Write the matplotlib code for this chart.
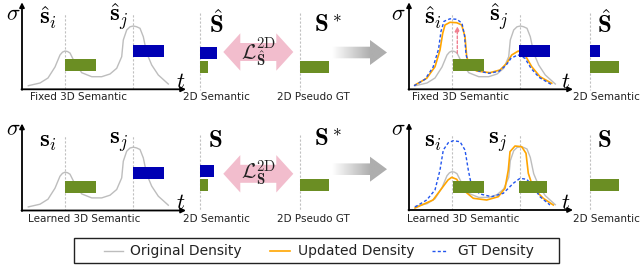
import numpy as np
import matplotlib
matplotlib.use("Agg")
import matplotlib.pyplot as plt
from matplotlib.patches import Polygon, Rectangle, FancyArrow
from matplotlib.lines import Line2D
from matplotlib.colors import LinearSegmentedColormap

plt.rcParams['mathtext.fontset'] = 'cm'
plt.rcParams['font.family'] = ['DejaVu Sans']

# ---------------- data (t along ray, sigma density) ----------------
T_ORIG = [6.3, 18, 26, 33, 38, 40.5, 43, 45.5, 48, 53, 59.7, 69.7, 79.7, 88, 94.7, 99.7,
          101.3, 104.7, 108, 111.3, 114.5, 118, 121.3, 124.7, 129.7, 136.3, 146.3]
SIGMA_ORIG = [3.6, 6.3, 11.3, 22.3, 34.3, 37.2, 38.3, 37.8, 36.3, 26.3, 16.6, 12.6, 12.6, 15.3, 21,
              32.6, 49.3, 59.3, 62.5, 63.3, 62.6, 61, 52.6, 36.3, 24.3, 14.3, 5.3]

T_UPD_FIXED = [6, 17.7, 26, 31, 33.7, 36, 41, 47.7, 52.7, 56, 57.7, 61, 67.7, 81, 91, 97.7,
               102.7, 109.3, 116, 122.7, 131, 142.7]
SIGMA_UPD_FIXED = [4.3, 11, 22.6, 39.3, 56, 64.3, 67, 66.6, 64.3, 52.6, 32.6, 22.6, 18.3, 16.6,
                   19.3, 26, 34.3, 38.3, 34.3, 22.6, 12.6, 6]

T_GT_FIXED = [5, 16, 24, 29.5, 32, 35, 41, 48, 53, 55.5, 57, 60, 66, 80, 90, 97, 102, 109, 116,
              122, 130, 142]
SIGMA_GT_FIXED = [3.5, 10, 22, 40, 58, 68, 70.5, 70, 66, 54, 35, 24, 19, 16, 18, 24, 31, 34.5,
                  31, 21, 12, 5]

T_UPD_LEARNED = [6, 24, 34, 39, 42.7, 47.7, 54.3, 64.3, 77.7, 89.3, 96, 99.3, 101, 106, 112.7,
                 117, 119.3, 124.3, 134.3, 144.3]
SIGMA_UPD_LEARNED = [2, 10, 23.3, 30, 32.7, 30.7, 20, 11.7, 10, 13.3, 21.7, 40, 58.3, 64, 63.3,
                     56.7, 36.7, 21.7, 11.7, 5]

T_GT_LEARNED = [6, 17.7, 26, 31, 34.3, 39.3, 44.3, 51, 56, 59.3, 62.7, 71, 82.7, 94.3, 104.3,
                111, 117.7, 124.3, 131, 141]
SIGMA_GT_LEARNED = [3, 10, 20, 40, 60, 67.3, 69.3, 68.3, 60, 40, 23.3, 16, 13.3, 16.7, 26.7,
                    31.7, 30.7, 23.3, 13.3, 5]

# semantic feature lengths: (green class, blue class)
SEM_FIXED_I = [31, 0]
SEM_FIXED_J = [0, 31]
SEM_LEARNED_I = [31, 0]
SEM_LEARNED_J = [0, 31]
SEM_LEARNED_I_AFTER = [31, 0]
SEM_LEARNED_J_AFTER = [0, 0]
SEM_LEARNED_J_AFTER_GREEN = [28, 0]
RENDER_FIXED = [8.5, 17]
RENDER_LEARNED = [8.5, 14]
PSEUDO_GT = [29, 0]
RENDER_FIXED_AFTER = [29, 10]
RENDER_LEARNED_AFTER = [29, 0]

LEGEND_LABELS = ["Original Density", "Updated Density", "GT Density"]
PANEL_LABELS_TOP = ["Fixed 3D Semantic", "2D Semantic", "2D Pseudo GT"]
PANEL_LABELS_BOT = ["Learned 3D Semantic", "2D Semantic", "2D Pseudo GT"]

# ---------------- style ----------------
GREEN = '#6B8E23'
BLUE = '#0000B4'
GRAY_LINE = '#BDBDBD'
ORANGE = '#FFA500'
GT_BLUE = '#2255EE'
DASH_GRAY = '#C0C0C0'
PINK = '#F2BDCD'

W, H = 641, 266
fig = plt.figure(figsize=(W / 100, H / 100), dpi=100)
ov = fig.add_axes([0, 0, 1, 1])
ov.set_xlim(0, W)
ov.set_ylim(H, 0)
ov.axis('off')

PW, PH = 164, 87
T_I, T_J = 42.5, 110.5


def panel(x0, y0):
    ax = fig.add_axes([x0 / W, (H - y0) / H, PW / W, PH / H])
    ax.set_xlim(0, PW)
    ax.set_ylim(0, PH)
    ax.axis('off')
    for t in (T_I, T_J):
        ax.plot([t, t], [0, 76], color=DASH_GRAY, lw=0.8, dashes=(2, 1.6), zorder=1)
    ax.annotate('', xy=(PW, 0), xytext=(-0.5, 0),
                arrowprops=dict(arrowstyle='-|>', color='black', lw=1.3, mutation_scale=7,
                                shrinkA=0, shrinkB=0), annotation_clip=False)
    ax.annotate('', xy=(0, PH), xytext=(0, -0.5),
                arrowprops=dict(arrowstyle='-|>', color='black', lw=1.3, mutation_scale=7,
                                shrinkA=0, shrinkB=0), annotation_clip=False)
    return ax


def sem_bars(ax, t, sem, green_c=24.2, blue_c=38.3, h=11.7):
    if sem[0] > 0:
        ax.barh(green_c, sem[0], left=t, height=h, color=GREEN, zorder=5)
    if sem[1] > 0:
        ax.barh(blue_c, sem[1], left=t, height=h, color=BLUE, zorder=5)


# top-left: fixed
a1 = panel(22, 89.3)
a1.plot(T_ORIG, SIGMA_ORIG, color=GRAY_LINE, lw=1.0, zorder=2)
sem_bars(a1, T_I, SEM_FIXED_I)
sem_bars(a1, T_J, SEM_FIXED_J)

# bottom-left: learned
a2 = panel(22, 210.5)
a2.plot(T_ORIG, SIGMA_ORIG, color=GRAY_LINE, lw=1.0, zorder=2)
sem_bars(a2, T_I, SEM_LEARNED_I, green_c=23.6, blue_c=37.4)
sem_bars(a2, T_J, SEM_LEARNED_J, green_c=23.6, blue_c=37.4)

# top-right: fixed after update
a3 = panel(409, 89.3)
a3.plot(T_ORIG, SIGMA_ORIG, color=GRAY_LINE, lw=1.0, zorder=2)
a3.plot(T_UPD_FIXED, SIGMA_UPD_FIXED, color=ORANGE, lw=1.2, zorder=3)
a3.plot(T_GT_FIXED, SIGMA_GT_FIXED, color=GT_BLUE, lw=1.0, dashes=(2.2, 1.6), zorder=4)
sem_bars(a3, T_I + 1.5, SEM_FIXED_I)
sem_bars(a3, T_J - 1, SEM_FIXED_J)
a3.annotate('', xy=(48.3, 63), xytext=(48.3, 36),
            arrowprops=dict(arrowstyle='-|>', color='#F08090', lw=1.0, ls=(0, (2, 1.5)),
                            mutation_scale=7, shrinkA=0, shrinkB=0), zorder=6)

# bottom-right: learned after update
a4 = panel(409, 210)
a4.plot(T_ORIG, SIGMA_ORIG, color=GRAY_LINE, lw=1.0, zorder=2)
a4.plot(T_UPD_LEARNED, SIGMA_UPD_LEARNED, color=ORANGE, lw=1.2, zorder=3)
a4.plot(T_GT_LEARNED, SIGMA_GT_LEARNED, color=GT_BLUE, lw=1.0, dashes=(2.2, 1.6), zorder=4)
sem_bars(a4, T_I + 1.5, SEM_LEARNED_I_AFTER, green_c=23.2)
sem_bars(a4, T_J - 1, SEM_LEARNED_J_AFTER_GREEN, green_c=23.2)

# ---------------- 2D columns ----------------
def column(x, y_top, y_bot, sem, green_c, blue_c, h=11.7):
    ov.plot([x, x], [y_top, y_bot], color=DASH_GRAY, lw=0.8, dashes=(2, 1.6), zorder=1)
    if sem[1] > 0:
        ov.barh(blue_c, sem[1], left=x, height=h, color=BLUE, zorder=5)
    if sem[0] > 0:
        ov.barh(green_c, sem[0], left=x, height=h, color=GREEN, zorder=5)


column(199.5, 13, 89.5, RENDER_FIXED, 66.8, 53.0)
column(300, 13, 89.5, PSEUDO_GT, 66.8, 53.0)
column(590, 13, 89.5, RENDER_FIXED_AFTER, 66.8, 50.8)
column(199.5, 135, 210.5, RENDER_LEARNED, 185, 171)
column(300, 135, 210.5, PSEUDO_GT, 185, 171)
column(590, 135, 210.5, RENDER_LEARNED_AFTER, 185, 171)


# ---------------- pink double arrows ----------------
def double_arrow(xl, xr, yc, half_head, half_shaft, head_len):
    pts = [(xl, yc), (xl + head_len, yc - half_head), (xl + head_len, yc - half_shaft),
           (xr - head_len, yc - half_shaft), (xr - head_len, yc - half_head), (xr, yc),
           (xr - head_len, yc + half_head), (xr - head_len, yc + half_shaft),
           (xl + head_len, yc + half_shaft), (xl + head_len, yc + half_head)]
    ov.add_patch(Polygon(pts, closed=True, facecolor=PINK, edgecolor='none', zorder=2))


double_arrow(223.3, 293.3, 52, 18.7, 9, 17)
double_arrow(223.3, 293.3, 173.8, 18.7, 9, 17)
ov.text(258, 52, r'$\mathcal{L}^{\mathrm{2D}}_{\hat{\mathbf{S}}}$', fontsize=15, ha='center',
        va='center', color='#222222', zorder=3)
ov.text(258, 173.5, r'$\mathcal{L}^{\mathrm{2D}}_{\mathbf{S}}$', fontsize=15, ha='center',
        va='center', color='#222222', zorder=3)

# ---------------- gray gradient arrows ----------------
cmap = LinearSegmentedColormap.from_list('g', ['#FFFFFF', '#AEAEAE'])
grad = np.linspace(0, 1, 256)[None, :]
for yc in (52.5, 169.2):
    arr = FancyArrow(331.5, yc, 55.5, 0, width=11.6, head_width=25, head_length=17,
                     length_includes_head=True, facecolor='none', edgecolor='none')
    ov.add_patch(arr)
    im = ov.imshow(np.clip(grad * 1.45, 0, 1), cmap=cmap, extent=(331.5, 387, yc + 13, yc - 13),
                   aspect='auto', zorder=2, vmin=0, vmax=1)
    im.set_clip_path(arr)
ov.set_xlim(0, W)
ov.set_ylim(H, 0)

# ---------------- math labels ----------------
FS = 18
lab = dict(fontsize=FS, ha='left', va='baseline', color='black')
ov.text(39, 25, r'$\hat{\mathbf{s}}_i$', **lab)
ov.text(109, 22, r'$\hat{\mathbf{s}}_j$', **lab)
ov.text(424, 25, r'$\hat{\mathbf{s}}_i$', **lab)
ov.text(489, 22, r'$\hat{\mathbf{s}}_j$', **lab)
ov.text(39, 146.5, r'$\mathbf{s}_i$', **lab)
ov.text(109, 144, r'$\mathbf{s}_j$', **lab)
ov.text(424, 146.5, r'$\mathbf{s}_i$', **lab)
ov.text(488, 143.5, r'$\mathbf{s}_j$', **lab)
ov.text(209, 33, r'$\hat{\mathbf{S}}$', **lab)
ov.text(597, 33, r'$\hat{\mathbf{S}}$', **lab)
ov.text(314, 32, r'$\mathbf{S}^*$', **lab)
ov.text(208, 147, r'$\mathbf{S}$', **lab)
ov.text(597, 147, r'$\mathbf{S}$', **lab)
ov.text(314, 146.5, r'$\mathbf{S}^*$', **lab)

ax_lab = dict(fontsize=16, ha='center', va='baseline', color='black')
for (x, y) in [(13, 20), (398.5, 20), (13, 135), (398.5, 135)]:
    ov.text(x, y, r'$\sigma$', **ax_lab)
for (x, y) in [(181, 88), (566, 88), (181, 209), (566, 209)]:
    ov.text(x, y, r'$t$', **ax_lab)

# ---------------- sub labels ----------------
sub = dict(fontsize=7.5, ha='left', va='center', color='#222222')
ov.text(30, 97.5, PANEL_LABELS_TOP[0], **sub)
ov.text(183, 97.5, PANEL_LABELS_TOP[1], **sub)
ov.text(277, 97.5, PANEL_LABELS_TOP[2], **sub)
ov.text(412, 97.5, PANEL_LABELS_TOP[0], **sub)
ov.text(573, 97.5, PANEL_LABELS_TOP[1], **sub)
ov.text(28, 219, PANEL_LABELS_BOT[0], **sub)
ov.text(183, 219, PANEL_LABELS_BOT[1], **sub)
ov.text(277, 219, PANEL_LABELS_BOT[2], **sub)
ov.text(407, 219, PANEL_LABELS_BOT[0], **sub)
ov.text(573, 219, PANEL_LABELS_BOT[1], **sub)

# ---------------- legend (drawn box) ----------------
ov.add_patch(Rectangle((74, 238), 485, 25, facecolor='white', edgecolor='#222222', lw=1.0,
                       zorder=6))
ly = 250.5
ov.plot([104, 123], [ly, ly], color=GRAY_LINE, lw=1.0, zorder=7)
ov.plot([270, 290], [ly, ly], color=ORANGE, lw=1.2, zorder=7)
ov.plot([432, 447], [ly, ly], color=GT_BLUE, lw=1.0, dashes=(2.2, 1.6), zorder=7)
leg = dict(fontsize=10, ha='left', va='center', color='#222222', zorder=7)
ov.text(130, ly, LEGEND_LABELS[0], **leg)
ov.text(298, ly, LEGEND_LABELS[1], **leg)
ov.text(458, ly, LEGEND_LABELS[2], **leg)

fig.savefig('out.png', dpi=100)
